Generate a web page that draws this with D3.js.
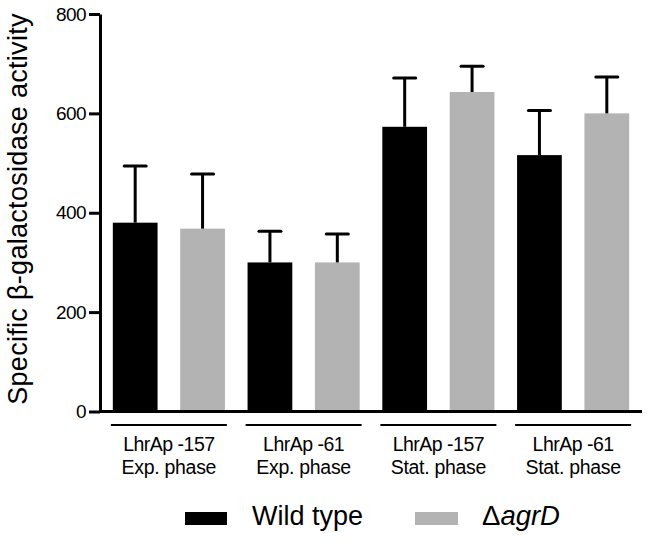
<!DOCTYPE html>
<html><head><meta charset="utf-8">
<script src="https://cdn.jsdelivr.net/npm/d3@7"></script>
<style>body{margin:0;background:#fff}svg{display:block}text{font-family:"Liberation Sans",Arial,Helvetica,sans-serif;fill:#000}</style>
</head><body>
<svg id="chart" width="647" height="541"></svg>
<script>
const groups = ["g1","g2","g3","g4"];
const groupLine1 = ["LhrAp -157","LhrAp -61","LhrAp -157","LhrAp -61"];
const groupLine2 = ["Exp. phase","Exp. phase","Stat. phase","Stat. phase"];
const seriesKeys = ["wt","agrD"];
const wildType = [380, 300, 573, 516];
const wildTypeErr = [114, 63, 98, 90];
const agrD = [368, 300, 643, 600];
const agrDErr = [110, 57, 52, 73];
const yTicks = [0, 200, 400, 600, 800];
const colors = {wt:"#000000", agrD:"#b3b3b3"};

const svg = d3.select("#chart");
const y = d3.scaleLinear().domain([0,800]).range([411.5,14]);
const x0 = d3.scaleBand().domain(groups).range([101.5,640.5]).paddingInner(0.168).paddingOuter(0.084);
const x1 = d3.scaleBand().domain(seriesKeys).range([0,x0.bandwidth()]).paddingInner(0.336).paddingOuter(0);

const data = [];
groups.forEach((g,i)=>{
  data.push({g, k:"wt", v:wildType[i], e:wildTypeErr[i]});
  data.push({g, k:"agrD", v:agrD[i], e:agrDErr[i]});
});

// bars
svg.append("g").selectAll("rect").data(data).join("rect")
  .attr("x", d=>x0(d.g)+x1(d.k))
  .attr("width", x1.bandwidth())
  .attr("y", d=>y(d.v))
  .attr("height", d=>y(0)-y(d.v))
  .attr("fill", d=>colors[d.k]);

// error bars
const eb = svg.append("g").attr("stroke","#000").attr("stroke-width",3);
data.forEach(d=>{
  const cx = x0(d.g)+x1(d.k)+x1.bandwidth()/2;
  eb.append("line").attr("x1",cx).attr("x2",cx).attr("y1",y(d.v)).attr("y2",y(d.v+d.e));
  eb.append("line").attr("x1",cx-11).attr("x2",cx+11).attr("y1",y(d.v+d.e)).attr("y2",y(d.v+d.e)).attr("stroke-linecap","round");
});

// y axis
const yAxis = svg.append("g").attr("transform","translate(100,0)")
  .call(d3.axisLeft(y).tickValues(yTicks).tickSize(11).tickPadding(3).tickSizeOuter(0));
yAxis.select(".domain").attr("stroke","#000").attr("stroke-width",3);
yAxis.selectAll(".tick line").attr("stroke","#000").attr("stroke-width",3);
yAxis.selectAll(".tick text").attr("font-size",19).attr("font-family","Liberation Sans, Arial, sans-serif").attr("fill","#000").attr("letter-spacing","-0.6");

// x axis baseline
svg.append("line").attr("x1",99).attr("x2",642).attr("y1",y(0)).attr("y2",y(0)).attr("stroke","#000").attr("stroke-width",3);

// group lines and labels
groups.forEach((g,i)=>{
  const cx = x0(g)+x0.bandwidth()/2;
  svg.append("line").attr("x1",cx-58).attr("x2",cx+58).attr("y1",425).attr("y2",425).attr("stroke","#000").attr("stroke-width",2);
  svg.append("text").attr("x",cx).attr("y",450.5).attr("text-anchor","middle").attr("font-size",19.5).attr("letter-spacing","-0.5").text(groupLine1[i]);
  svg.append("text").attr("x",cx).attr("y",473.5).attr("text-anchor","middle").attr("font-size",19.5).attr("letter-spacing","-0.3").text(groupLine2[i]);
});

// y title
svg.append("text").attr("transform","translate(27,209) rotate(-90)").attr("text-anchor","middle")
  .attr("font-size",27).attr("letter-spacing","0.3").text("Specific β-galactosidase activity");

// legend
svg.append("rect").attr("x",185).attr("y",512).attr("width",42).attr("height",13).attr("fill",colors.wt);
svg.append("text").attr("x",252).attr("y",525).attr("font-size",27).text("Wild type");
svg.append("rect").attr("x",415).attr("y",512).attr("width",43).attr("height",13).attr("fill",colors.agrD);
const t2 = svg.append("text").attr("x",482).attr("y",525).attr("font-size",27.5);
t2.append("tspan").text("Δ");
t2.append("tspan").attr("font-style","italic").text("agrD");
</script>
</body></html>
